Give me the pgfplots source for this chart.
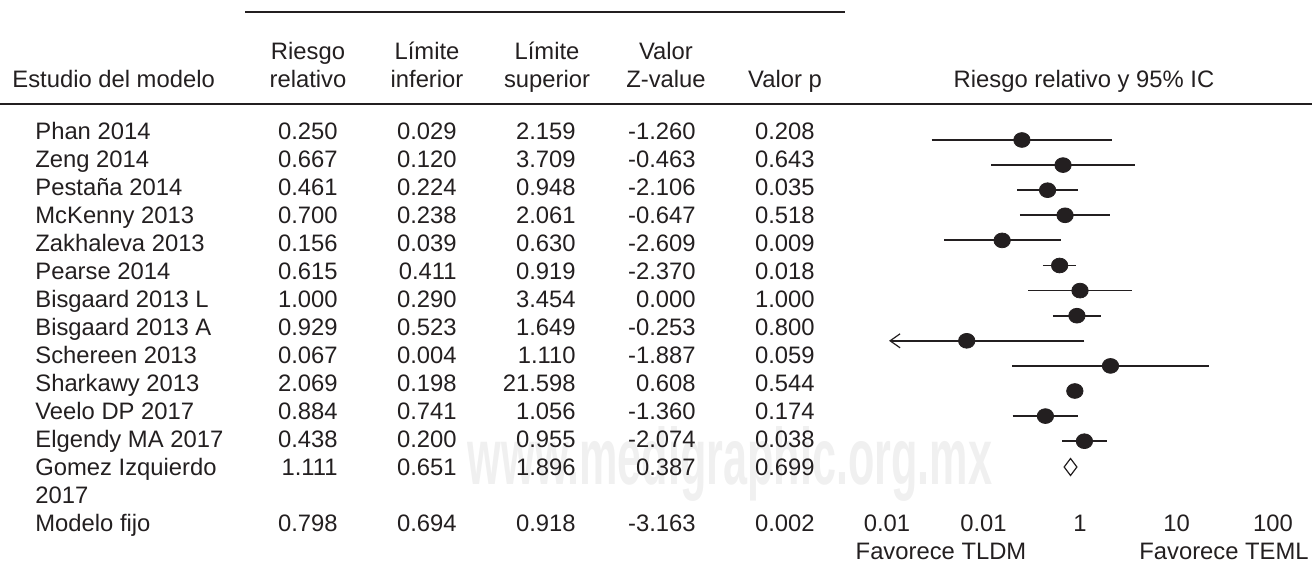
\documentclass[border=0pt]{standalone}
\usepackage{fontspec}
\setmainfont{Liberation Sans}
\usepackage{graphicx}
\usepackage{pgfplots}
\pgfplotsset{compat=1.18}
\usetikzlibrary{arrows.meta}
\definecolor{ink}{HTML}{231F20}
\newcommand{\tf}{\fontsize{11.9bp}{13.9bp}\selectfont}
% row: baseline y, name, rr, lo, hi, z, p
\newcommand{\row}[7]{%
  \node[anchor=base west] at (35,#1) {#2};
  \node[anchor=base east] at (338,#1) {#3};
  \node[anchor=base east] at (457,#1) {#4};
  \node[anchor=base east] at (576,#1) {#5};
  \node[anchor=base east] at (696,#1) {#6};
  \node[anchor=base east] at (815,#1) {#7};}
\begin{document}
\begin{tikzpicture}[x=0.5bp,y=-0.5bp,every node/.style={inner sep=0pt,text=ink,font=\tf}]
\useasboundingbox (0,0) rectangle (1312,571);
% watermark
\node[text=black!6] at (730,464) {\fontsize{40bp}{40bp}\selectfont\scalebox{0.54}[1]{\textbf{www.medigraphic.org.mx}}};
% rules
\draw[ink,line width=1bp] (245,12) -- (845,12);
\draw[ink,line width=1bp] (0,104) -- (1312,104);
% headers
\node[anchor=base west] at (12,87.5) {Estudio del modelo};
\node[anchor=base] at (308,59.5) {Riesgo};
\node[anchor=base] at (308,87.5) {relativo};
\node[anchor=base] at (427,59.5) {Límite};
\node[anchor=base] at (427,87.5) {inferior};
\node[anchor=base] at (547,59.5) {Límite};
\node[anchor=base] at (547,87.5) {superior};
\node[anchor=base] at (666,59.5) {Valor};
\node[anchor=base] at (666,87.5) {Z-value};
\node[anchor=base] at (785,87.5) {Valor p};
\node[anchor=base] at (1084,87.5) {Riesgo relativo y 95\% IC};
% table rows
\row{139.5}{Phan 2014}{0.250}{0.029}{2.159}{-1.260}{0.208}
\row{167.5}{Zeng 2014}{0.667}{0.120}{3.709}{-0.463}{0.643}
\row{195.5}{Pestaña 2014}{0.461}{0.224}{0.948}{-2.106}{0.035}
\row{223.5}{McKenny 2013}{0.700}{0.238}{2.061}{-0.647}{0.518}
\row{251.5}{Zakhaleva 2013}{0.156}{0.039}{0.630}{-2.609}{0.009}
\row{279.5}{Pearse 2014}{0.615}{0.411}{0.919}{-2.370}{0.018}
\row{307.5}{Bisgaard 2013 L}{1.000}{0.290}{3.454}{0.000}{1.000}
\row{335.5}{Bisgaard 2013 A}{0.929}{0.523}{1.649}{-0.253}{0.800}
\row{363.5}{Schereen 2013}{0.067}{0.004}{1.110}{-1.887}{0.059}
\row{391.5}{Sharkawy 2013}{2.069}{0.198}{21.598}{0.608}{0.544}
\row{419.5}{Veelo DP 2017}{0.884}{0.741}{1.056}{-1.360}{0.174}
\row{447.5}{Elgendy MA 2017}{0.438}{0.200}{0.955}{-2.074}{0.038}
\row{475.5}{Gomez Izquierdo}{1.111}{0.651}{1.896}{0.387}{0.699}
\node[anchor=base west] at (35,503.5) {2017};
\row{531.5}{Modelo fijo}{0.798}{0.694}{0.918}{-3.163}{0.002}
% bottom labels
\node[anchor=base] at (941,559.5) {Favorece TLDM};
\node[anchor=base] at (1224,559.5) {Favorece TEML};
\coordinate (A) at (887,507);
\begin{axis}[at={(A)}, anchor=south west, scale only axis,
  width=193bp, height=193.5bp,
  xmode=log, xmin=0.01, xmax=100, ymin=120, ymax=507, y dir=reverse,
  clip=false, axis line style={draw=none},
  major tick length=0pt, minor tick length=0pt, tick style={draw=none},
  minor xtick={}, ytick=\empty,
  xtick={0.01,0.1,1,10,100}, xticklabels={0.01,0.01,1,10,100},
  xticklabel style={font=\tf, text=ink, inner sep=0pt, anchor=base, yshift=-12.25bp},
  /pgf/number format/assume math mode=true]
\pgfplotsset{ci/.style={ink, line width=0.9bp, forget plot}}
\addplot[ci] coordinates {(0.029,140) (2.159,140)};
\addplot[ci] coordinates {(0.120,165.1) (3.709,165.1)};
\addplot[ci] coordinates {(0.224,190.2) (0.948,190.2)};
\addplot[ci] coordinates {(0.238,215.3) (2.061,215.3)};
\addplot[ci] coordinates {(0.039,240.4) (0.630,240.4)};
\addplot[ci] coordinates {(0.411,265.5) (0.919,265.5)};
\addplot[ci] coordinates {(0.290,290.6) (3.454,290.6)};
\addplot[ci] coordinates {(0.523,315.7) (1.649,315.7)};
\addplot[ci, -{Straight Barb[length=5bp,width=7bp,line width=0.6bp]}] coordinates {(1.110,340.8) (0.0105,340.8)};
\addplot[ci] coordinates {(0.198,365.9) (21.598,365.9)};
\addplot[ci] coordinates {(0.741,391) (1.056,391)};
\addplot[ci] coordinates {(0.200,416.1) (0.955,416.1)};
\addplot[ci] coordinates {(0.651,441.2) (1.896,441.2)};
\addplot[only marks, mark=*, mark size=4.1bp, ink, mark options={yscale=0.9, fill=ink}] coordinates {
(0.250,140) (0.667,165.1) (0.461,190.2) (0.700,215.3) (0.156,240.4) (0.615,265.5)
(1.000,290.6) (0.929,315.7) (0.067,340.8) (2.069,365.9) (0.884,391) (0.438,416.1) (1.111,441.2)};
\addplot[only marks, mark=diamond, mark size=4.25bp, ink, mark options={fill=white, line width=0.6bp}] coordinates {(0.798,467)};
\end{axis}
\end{tikzpicture}
\end{document}
